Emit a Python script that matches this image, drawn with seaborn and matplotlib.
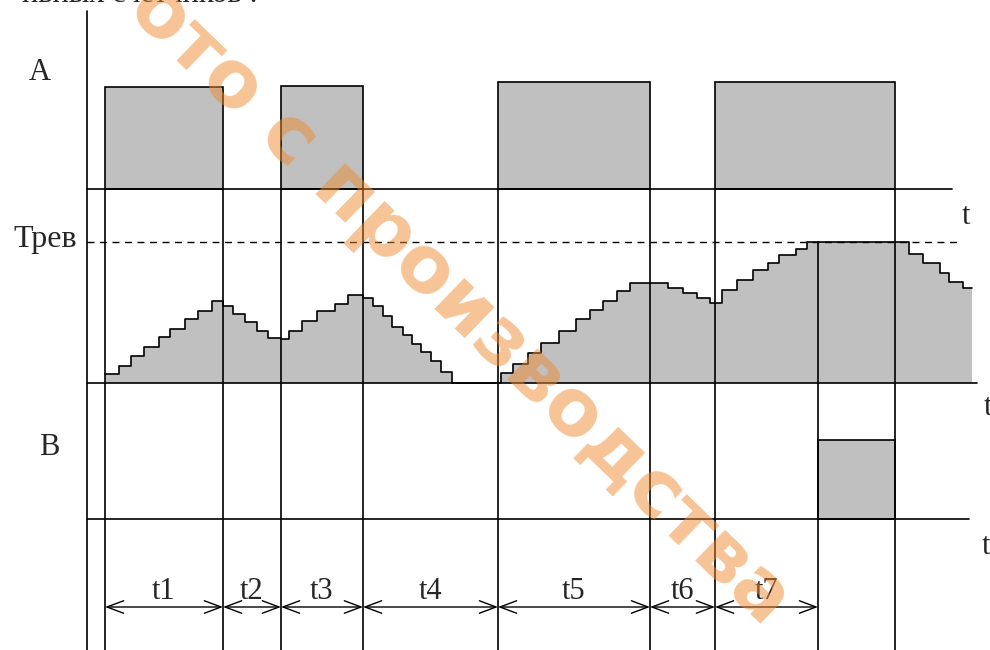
"""
Timing diagram: input pulses A, accumulating counter with alarm threshold, output B.
Drawn in a pixel-like coordinate frame (x to the right, y downwards).
"""

import numpy as np
import pandas as pd
import matplotlib
import matplotlib.pyplot as plt
import seaborn as sns

matplotlib.use("Agg")

# ---- data -------------------------------------------------------------
# time marks (pulse edges) on the common time axis
t_marks = [105, 223, 281, 363, 498, 650, 715, 818, 895]

# channel A pulses: start, end, height above baseline
a_start = [105, 281, 498, 715]
a_end = [223, 363, 650, 895]
a_height = [102, 103, 107, 107]

# counter: step start times and levels (above counter baseline)
cnt_x = [105, 119, 131, 144, 159, 170, 185, 198, 212, 223, 233, 245, 257, 268,
         281, 289, 302, 317, 335, 348, 363, 373, 383, 392, 403, 412, 421, 431,
         441, 452, 501, 513, 528, 541, 559, 576, 590, 603, 617, 630, 668, 683,
         697, 710, 722, 737, 753, 768, 779, 796, 807, 909, 923, 940, 949, 963,
         972]
cnt_level = [9, 17, 27, 36, 46, 54, 64, 72, 82, 77, 69, 61, 52, 45,
             44, 52, 62, 72, 79, 88, 85, 77, 67, 56, 48, 39, 31, 22,
             11, 0, 10, 19, 30, 40, 52, 64, 73, 82, 92, 100, 95, 90,
             85, 80, 93, 103, 113, 120, 128, 134, 141, 129, 120, 110, 101, 95,
             95]
threshold = 141

# channel B output pulse
b_start = [818]
b_end = [895]
b_height = [79]

# interval labels
interval_labels = ["t1", "t2", "t3", "t4", "t5", "t6", "t7"]
interval_edges = [105, 223, 281, 363, 498, 650, 715, 818]

# ---- layout -----------------------------------------------------------
axis_x = 87
base_a, base_c, base_b = 189, 383, 519
arrow_y = 607
gray = "#c0c0c0"
lw = 1.2
serif = "Liberation Serif"

sns.set_style("white")
plt.rcParams["font.family"] = [serif, "DejaVu Serif"]

fig = plt.figure(figsize=(9.9, 6.5), dpi=100)
ax = fig.add_axes([0, 0, 1, 1])

# main vertical axis
ax.plot([axis_x, axis_x], [11, 650], color="black", lw=lw)

# channel A
for s, e, h in zip(a_start, a_end, a_height):
    ax.add_patch(plt.Rectangle((s, base_a - h), e - s, h, facecolor=gray,
                               edgecolor="black", lw=lw, zorder=2))
ax.plot([axis_x, 952], [base_a, base_a], color="black", lw=lw, zorder=3)

# counter staircase
steps = pd.DataFrame({"x": cnt_x, "y": [base_c - v for v in cnt_level]})
ax.fill_between(steps["x"], steps["y"], base_c, step="post", color=gray,
                lw=0, zorder=1)
sns.lineplot(data=steps, x="x", y="y", drawstyle="steps-post",
             color="black", lw=lw, ax=ax, zorder=3)
ax.plot([axis_x, 977], [base_c, base_c], color="black", lw=lw, zorder=3)
ax.plot([axis_x, 957], [base_c - threshold] * 2, color="black", lw=1.0,
        ls=(0, (5, 4)), zorder=2)

# channel B
for s, e, h in zip(b_start, b_end, b_height):
    ax.add_patch(plt.Rectangle((s, base_b - h), e - s, h, facecolor=gray,
                               edgecolor="black", lw=lw, zorder=2))
ax.plot([axis_x, 969], [base_b, base_b], color="black", lw=lw, zorder=3)

# vertical time marks
for t in t_marks:
    top = base_c - threshold if t in b_start else base_a
    ax.plot([t, t], [top, 650], color="black", lw=lw, zorder=3)

# interval arrows and labels
for lab, s, e in zip(interval_labels, interval_edges[:-1], interval_edges[1:]):
    ax.annotate("", xy=(e, arrow_y), xytext=(s, arrow_y),
                arrowprops=dict(arrowstyle="<->,head_length=1.2,head_width=0.45",
                                lw=1.0, color="black", shrinkA=0, shrinkB=0))
    ax.text((s + e) / 2, arrow_y - 8, lab, fontsize=22, ha="center", va="baseline")

# channel labels
ax.text(40, 80, "A", fontsize=22, ha="center", va="baseline")
ax.text(45, 247, "Трев", fontsize=23, ha="center", va="baseline")
ax.text(49, 455, "B", fontsize=22, ha="center", va="baseline")
ax.text(966, 224, "t", fontsize=22, ha="center", va="baseline")
ax.text(988, 415, "t", fontsize=22, ha="center", va="baseline")
ax.text(986, 554, "t", fontsize=22, ha="center", va="baseline")

# cut-off caption line at the very top
ax.text(258, 2, "ивных счетчиков :", fontsize=22, ha="right", va="baseline")

# watermark
ax.text(432, 276, "Фото с производства", fontsize=57, fontweight="bold",
        family="DejaVu Sans", color="#ee8a2e", alpha=0.5, rotation=-44,
        ha="center", va="center", rotation_mode="anchor", zorder=10)

ax.set_xlim(0, 990)
ax.set_ylim(650, 0)
ax.axis("off")

fig.savefig("out.png", dpi=100)
